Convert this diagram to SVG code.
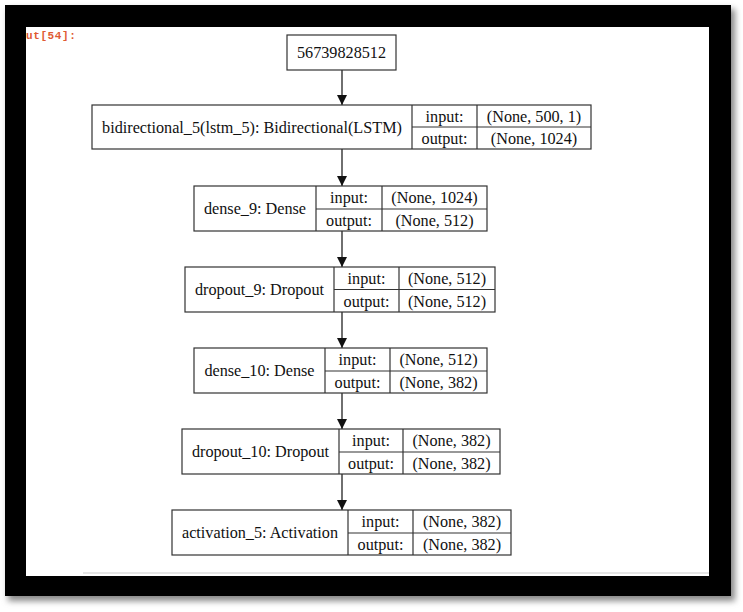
<svg xmlns="http://www.w3.org/2000/svg" width="743" height="612" viewBox="0 0 743 612">
  <defs>
    <filter id="shadow" x="-5%" y="-5%" width="110%" height="110%">
      <feGaussianBlur stdDeviation="3"/>
    </filter>
    <marker id="arr" viewBox="0 0 10 10" refX="10" refY="5" markerWidth="10" markerHeight="10" markerUnits="userSpaceOnUse" orient="auto">
      <path d="M0,0 L10,5 L0,10 z" fill="#111"/>
    </marker>
    <style>
      .box { fill: #fff; stroke: #333; stroke-width: 1.2; }
      .ln { stroke: #333; stroke-width: 1.2; fill: none; }
      .t { font-family: "Liberation Serif", "Times New Roman", serif; font-size: 16.2px; fill: #111; text-anchor: middle; }
      .edge { stroke: #222; stroke-width: 1.3; fill: none; marker-end: url(#arr); }
    </style>
  </defs>

  <rect width="743" height="612" fill="#fff"/>
  <!-- frame -->
  <rect x="8" y="9" width="727" height="592" fill="#888" filter="url(#shadow)"/>
  <rect x="5" y="5" width="726" height="591" fill="#000"/>
  <rect x="26" y="27" width="683" height="549" fill="#fff"/>
  <line x1="83" y1="573" x2="709" y2="573" stroke="#ddd" stroke-width="1.5"/>
  <text x="26" y="39" font-family="Liberation Mono, monospace" font-size="11" font-weight="bold" fill="#e05a33" letter-spacing="0.6">ut[54]:</text>

  <g id="connectors">
    <line class="edge" x1="342" y1="70" x2="342" y2="105"/>
    <line class="edge" x1="342" y1="149" x2="342" y2="186"/>
    <line class="edge" x1="342" y1="231" x2="342" y2="267"/>
    <line class="edge" x1="342" y1="312" x2="342" y2="348"/>
    <line class="edge" x1="342" y1="393" x2="342" y2="429"/>
    <line class="edge" x1="342" y1="474" x2="342" y2="510"/>
  </g>

  <g id="input_node">
    <rect class="box" x="287" y="35" width="109" height="35"/>
    <text class="t" x="341.5" y="58">56739828512</text>
  </g>

  <g id="bidirectional_5">
    <rect class="box" x="92" y="105" width="499" height="44"/>
    <line class="ln" x1="412" y1="105" x2="412" y2="149"/>
    <line class="ln" x1="477" y1="105" x2="477" y2="149"/>
    <line class="ln" x1="412" y1="127" x2="591" y2="127"/>
    <text class="t" x="252" y="132.5">bidirectional_5(lstm_5): Bidirectional(LSTM)</text>
    <text class="t" x="444.5" y="121.5">input:</text>
    <text class="t" x="444.5" y="143.5">output:</text>
    <text class="t" x="534" y="121.5">(None, 500, 1)</text>
    <text class="t" x="534" y="143.5">(None, 1024)</text>
  </g>

  <g id="dense_9">
    <rect class="box" x="194" y="186" width="293" height="45"/>
    <line class="ln" x1="316" y1="186" x2="316" y2="231"/>
    <line class="ln" x1="382" y1="186" x2="382" y2="231"/>
    <line class="ln" x1="316" y1="209" x2="487" y2="209"/>
    <text class="t" x="255" y="214">dense_9: Dense</text>
    <text class="t" x="349" y="203">input:</text>
    <text class="t" x="349" y="225.5">output:</text>
    <text class="t" x="434.5" y="203">(None, 1024)</text>
    <text class="t" x="434.5" y="225.5">(None, 512)</text>
  </g>

  <g id="dropout_9">
    <rect class="box" x="185" y="267" width="310" height="45"/>
    <line class="ln" x1="334" y1="267" x2="334" y2="312"/>
    <line class="ln" x1="399" y1="267" x2="399" y2="312"/>
    <line class="ln" x1="334" y1="289.5" x2="495" y2="289.5"/>
    <text class="t" x="259.5" y="295">dropout_9: Dropout</text>
    <text class="t" x="366.5" y="284">input:</text>
    <text class="t" x="366.5" y="306.5">output:</text>
    <text class="t" x="447" y="284">(None, 512)</text>
    <text class="t" x="447" y="306.5">(None, 512)</text>
  </g>

  <g id="dense_10">
    <rect class="box" x="194" y="348" width="293" height="45"/>
    <line class="ln" x1="325" y1="348" x2="325" y2="393"/>
    <line class="ln" x1="390" y1="348" x2="390" y2="393"/>
    <line class="ln" x1="325" y1="371" x2="487" y2="371"/>
    <text class="t" x="259.5" y="376">dense_10: Dense</text>
    <text class="t" x="357.5" y="365">input:</text>
    <text class="t" x="357.5" y="387.5">output:</text>
    <text class="t" x="438.5" y="365">(None, 512)</text>
    <text class="t" x="438.5" y="387.5">(None, 382)</text>
  </g>

  <g id="dropout_10">
    <rect class="box" x="182" y="429" width="318" height="45"/>
    <line class="ln" x1="339" y1="429" x2="339" y2="474"/>
    <line class="ln" x1="403" y1="429" x2="403" y2="474"/>
    <line class="ln" x1="339" y1="452" x2="500" y2="452"/>
    <text class="t" x="260.5" y="457">dropout_10: Dropout</text>
    <text class="t" x="371" y="446">input:</text>
    <text class="t" x="371" y="468.5">output:</text>
    <text class="t" x="451.5" y="446">(None, 382)</text>
    <text class="t" x="451.5" y="468.5">(None, 382)</text>
  </g>

  <g id="activation_5">
    <rect class="box" x="172" y="510" width="339" height="45"/>
    <line class="ln" x1="348" y1="510" x2="348" y2="555"/>
    <line class="ln" x1="413" y1="510" x2="413" y2="555"/>
    <line class="ln" x1="348" y1="533" x2="511" y2="533"/>
    <text class="t" x="260" y="538">activation_5: Activation</text>
    <text class="t" x="380.5" y="527">input:</text>
    <text class="t" x="380.5" y="549.5">output:</text>
    <text class="t" x="462" y="527">(None, 382)</text>
    <text class="t" x="462" y="549.5">(None, 382)</text>
  </g>
</svg>
